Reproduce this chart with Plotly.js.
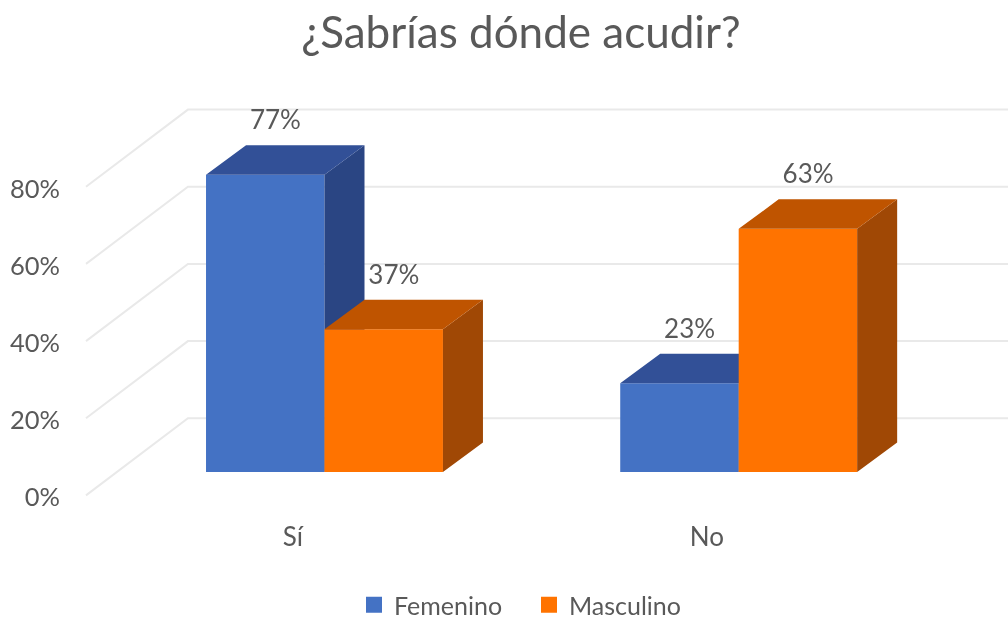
<!DOCTYPE html>
<html>
<head>
<meta charset="utf-8">
<script src="https://cdn.plot.ly/plotly-3.0.1.min.js"></script>
<style>html,body{margin:0;padding:0;background:#fff;overflow:hidden}</style>
</head>
<body>
<div id="chart" style="width:1008px;height:617px;filter:blur(0.6px)"></div>
<script>
const categories = ['Sí', 'No'];
const femenino = [77, 23];
const masculino = [37, 63];
const valueTicks = [0, 20, 40, 60, 80];
const titleText = '¿Sabrías dónde acudir?';
const seriesNames = ['Femenino', 'Masculino'];

const FONT = 'Lato, "Open Sans", sans-serif';
const TEXT = '#595959';
const BAR_W = 0.286, DEPTH_X = 0.0966, DEPTH_Y = 7.64, FLOOR = 6.09;
const WALL_X0 = -0.5758, WALL_X1 = -0.3296, WALL_DY = 20;
const XMIN = -0.6313, XMAX = 1.6502;
const idx = categories.map((_, i) => i);

function boxFaces(xc, value) {
  const top = FLOOR + value, l = xc - BAR_W / 2, r = xc + BAR_W / 2;
  return {
    side: [[r, FLOOR], [r + DEPTH_X, FLOOR + DEPTH_Y], [r + DEPTH_X, top + DEPTH_Y], [r, top], [r, FLOOR]],
    top: [[l, top], [r, top], [r + DEPTH_X, top + DEPTH_Y], [l + DEPTH_X, top + DEPTH_Y], [l, top]]
  };
}
function polyTrace(polys, color, xa, ya) {
  const x = [], y = [];
  polys.forEach(p => { p.forEach(c => { x.push(c[0]); y.push(c[1]); }); x.push(null); y.push(null); });
  return {x, y, xaxis: xa, yaxis: ya, type: 'scatter', mode: 'lines', fill: 'toself', fillcolor: color,
          line: {width: 0, color}, hoverinfo: 'skip', showlegend: false};
}
function seriesTraces(values, offset, front, topColor, sideColor, xa, ya, name) {
  const xs = idx.map(i => i + offset);
  const faces = xs.map((x, i) => boxFaces(x, values[i]));
  return [
    {x: xs, y: values, base: values.map(() => FLOOR), width: BAR_W, type: 'bar', xaxis: xa, yaxis: ya,
     marker: {color: front}, showlegend: false, name, hoverinfo: 'skip'},
    polyTrace(faces.map(f => f.side), sideColor, xa, ya),
    polyTrace(faces.map(f => f.top), topColor, xa, ya)
  ];
}

// Back-wall gridlines
const gx = [], gy = [];
valueTicks.forEach(v => {
  gx.push(WALL_X0, WALL_X1, XMAX, null);
  gy.push(v, v + WALL_DY, v + WALL_DY, null);
});
const grid = {x: gx, y: gy, type: 'scatter', mode: 'lines', line: {color: '#e9e9e9', width: 2},
              hoverinfo: 'skip', showlegend: false, xaxis: 'x', yaxis: 'y'};

const legendF = {x: [null], y: [null], type: 'scatter', mode: 'markers', name: seriesNames[0],
                 marker: {symbol: 'square', size: 16, color: '#4472C4'}, xaxis: 'x', yaxis: 'y'};
const legendM = {x: [null], y: [null], type: 'scatter', mode: 'markers', name: seriesNames[1],
                 marker: {symbol: 'square', size: 16, color: '#FF7300'}, xaxis: 'x', yaxis: 'y'};

const femOff = -BAR_W / 2, mascOff = BAR_W / 2;
const LABEL_DX = 0.0245, LABEL_DY = 13.5;
const labels = {
  type: 'scatter', mode: 'text', xaxis: 'x3', yaxis: 'y3', showlegend: false, hoverinfo: 'skip',
  x: idx.map(i => i + femOff + LABEL_DX).concat(idx.map(i => i + mascOff + LABEL_DX)),
  y: femenino.map(v => FLOOR + v + LABEL_DY).concat(masculino.map(v => FLOOR + v + LABEL_DY)),
  text: femenino.concat(masculino).map(v => v + '%'),
  textposition: 'middle center',
  textfont: {family: FONT, size: 26, color: TEXT},
  cliponaxis: false
};

const traces = [grid, legendF, legendM]
  .concat(seriesTraces(femenino, femOff, '#4472C4', '#325097', '#2A4583', 'x2', 'y2', seriesNames[0]))
  .concat(seriesTraces(masculino, mascOff, '#FF7300', '#BF5400', '#A04805', 'x3', 'y3', seriesNames[1]))
  .concat([labels]);

const hiddenX = {range: [XMIN, XMAX], overlaying: 'x', visible: false, fixedrange: true};
const hiddenY = {range: [-3, 103], overlaying: 'y', visible: false, fixedrange: true};

const layout = {
  width: 1008, height: 617,
  margin: {l: 63, r: 0, t: 98, b: 110, autoexpand: false},
  paper_bgcolor: '#ffffff', plot_bgcolor: '#ffffff',
  barmode: 'overlay',
  title: {text: titleText, x: 521 / 1008, xanchor: 'center', y: 1 - 33 / 617, yanchor: 'middle',
          font: {family: FONT, size: 44, color: TEXT}},
  xaxis: {range: [XMIN, XMAX], tickmode: 'array', tickvals: idx.map(i => i - 0.0766), ticktext: categories,
          showgrid: false, zeroline: false, showline: false, ticks: '', ticklabelstandoff: 12,
          tickfont: {family: FONT, size: 26, color: TEXT}, fixedrange: true},
  yaxis: {range: [-3, 103], tickmode: 'array', tickvals: valueTicks, ticktext: valueTicks.map(v => v + '%'),
          showgrid: false, zeroline: false, showline: false, ticks: '', ticklabelstandoff: 2, ticklabelshift: 2,
          tickfont: {family: FONT, size: 25.5, color: TEXT}, fixedrange: true},
  xaxis2: Object.assign({}, hiddenX), yaxis2: Object.assign({}, hiddenY, {anchor: 'x2'}),
  xaxis3: Object.assign({}, hiddenX), yaxis3: Object.assign({}, hiddenY, {anchor: 'x3'}),
  showlegend: true,
  legend: {orientation: 'h', xref: 'container', x: 354 / 1008, xanchor: 'left', y: 1 - 605 / 617, yanchor: 'middle',
           yref: 'container', entrywidth: 130, entrywidthmode: 'pixels',
           font: {family: FONT, size: 25, color: TEXT}, bgcolor: 'rgba(0,0,0,0)', traceorder: 'normal'}
};

Plotly.newPlot('chart', traces, layout, {staticPlot: true, displayModeBar: false});
</script>
</body>
</html>
